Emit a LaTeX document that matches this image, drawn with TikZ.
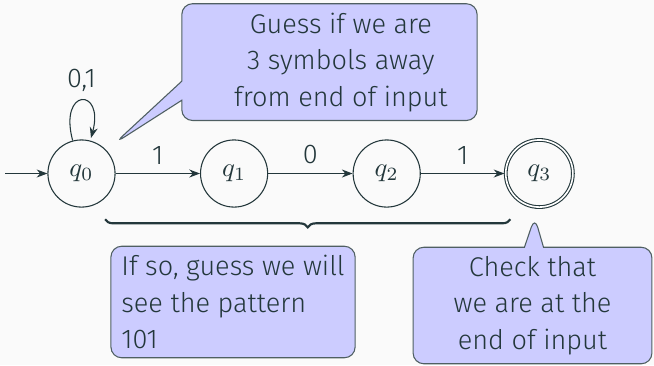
\documentclass[tikz,border=0pt]{standalone}
\usepackage[no-math]{fontspec}
\setmainfont{Fira Sans}[UprightFont={* Light}]
\usetikzlibrary{automata,positioning,shapes.callouts,decorations.pathreplacing,arrows.meta}
\definecolor{mDarkTeal}{HTML}{23373B}
\definecolor{mBackground}{HTML}{FAFAFA}

\begin{document}
\begin{tikzpicture}[
    font=\fontsize{10.1}{13.6}\selectfont,
    color=mDarkTeal,
    >={Stealth[length=4pt]},
    node distance=2cm, on grid, auto,
    every state/.style={draw=mDarkTeal, minimum size=0.88cm, inner sep=0pt},
    initial text={}, initial distance=0.55cm,
    note/.style={draw=mDarkTeal!80, fill=blue!20, rounded corners=4pt},
  ]
    \path[use as bounding box, fill=mBackground] (-1.068,-2.510) rectangle (7.503,2.274);

    \node[state, initial] (q0) {$q_0$};
    \node[state, right=of q0] (q1) {$q_1$};
    \node[state, right=of q1] (q2) {$q_2$};
    \node[state, accepting, right=of q2] (q3) {$q_3$};

    \path[->]
      (q0) edge[loop above] node {0,1} ()
           edge node {1} (q1)
      (q1) edge node {0} (q2)
      (q2) edge node {1} (q3);

    % where the callouts point
    \coordinate (guesstip) at (0.44,0.40);
    \coordinate (checktip) at (5.94,-0.57);

    \node[note, rectangle callout, callout absolute pointer=(guesstip),
          minimum width=3.87cm, minimum height=1.52cm, align=center]
          (guess) at (3.25,1.46)
          {\hspace*{0.3cm}Guess if we are\\\hspace*{0.3cm}3 symbols away\\\hspace*{0.3cm}from end of input};

    % brace under the chain q0 .. q3
    \coordinate (bl) at (0.31,-0.60);
    \coordinate (br) at (5.62,-0.60);
    \draw[thick, decorate, decoration={brace, mirror, amplitude=3pt}] (bl) -- (br);

    \node[note, minimum width=3.2cm, minimum height=1.44cm, align=left]
          (pattern) at (1.986,-1.684) {If so, guess we will\\see the pattern\\101};

    \node[note, rectangle callout, callout absolute pointer=(checktip),
          minimum width=3.13cm, minimum height=1.51cm, align=center]
          (check) at (5.911,-1.730) {Check that\\we are at the\\end of input};
\end{tikzpicture}
\end{document}
